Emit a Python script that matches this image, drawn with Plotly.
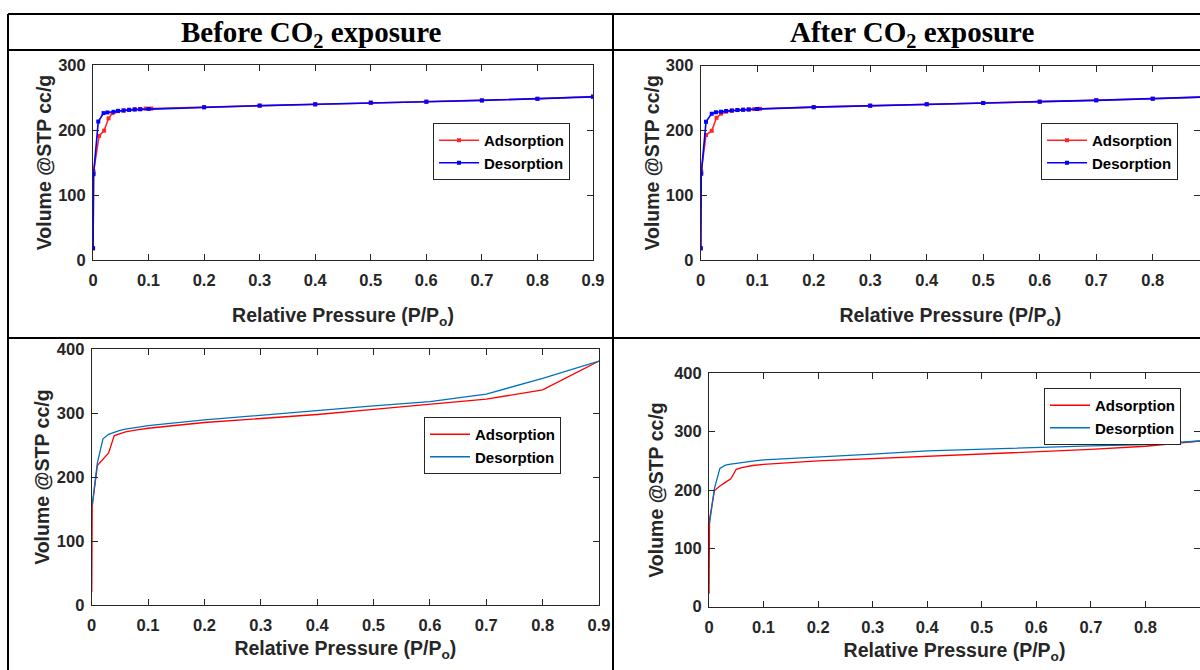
import plotly.graph_objects as go

W, H = 1200, 670

# ---------------- data ----------------
# Top-left: Before CO2 exposure (N2 isotherm, with markers)
bl_ads_x = [0.0001, 0.001, 0.011, 0.02, 0.028, 0.035, 0.045, 0.055, 0.065, 0.075, 0.085, 0.095, 0.105,
            0.2, 0.3, 0.4, 0.5, 0.6, 0.7, 0.8, 0.9]
bl_ads_y = [18, 136, 191, 199, 218, 226, 229, 230, 231, 232, 232, 233, 233,
            235, 237.5, 239.5, 242, 243.5, 245.5, 248, 251.5]
bl_des_x = [0.9, 0.8, 0.7, 0.6, 0.5, 0.4, 0.3, 0.2, 0.1, 0.085, 0.075, 0.065, 0.055, 0.045,
            0.037, 0.026, 0.019, 0.0095, 0.001, 0.0001]
bl_des_y = [251, 248, 245.5, 243.5, 242, 239.5, 237.5, 235, 232.5, 232, 231.5, 231, 230, 229.5,
            228, 227, 226, 213, 132, 18]

# Top-right: After CO2 exposure (with markers)
al_ads_x = [0.0001, 0.001, 0.0094, 0.0195, 0.028, 0.036, 0.045, 0.055, 0.065, 0.075, 0.085, 0.095, 0.105,
            0.2, 0.3, 0.4, 0.5, 0.6, 0.7, 0.8, 0.9]
al_ads_y = [18, 137, 193, 199.5, 219.5, 226, 229, 230.5, 231.5, 232, 232.5, 233, 233.5,
            236, 238.5, 240.5, 242.5, 244.5, 246.5, 249, 252]
al_des_x = [0.9, 0.8, 0.7, 0.6, 0.5, 0.4, 0.3, 0.2, 0.1, 0.085, 0.075, 0.065, 0.055, 0.045,
            0.036, 0.027, 0.0195, 0.0094, 0.001, 0.0001]
al_des_y = [252, 249, 246.5, 244.5, 242.5, 240.5, 238, 236, 233, 232.5, 232, 231.5, 231, 230,
            229, 228, 226, 213.5, 133, 18]

# Bottom-left: Before CO2 exposure (lines only)
bb_ads_x = [0.0001, 0.001, 0.01, 0.02, 0.03, 0.04, 0.05, 0.06, 0.08, 0.1,
            0.2, 0.3, 0.4, 0.5, 0.6, 0.7, 0.8, 0.9]
bb_ads_y = [20, 155, 218, 228, 238, 265, 268.5, 271, 274, 276.5,
            285.5, 292, 298, 306, 313.5, 322, 336.5, 381.5]
bb_des_x = [0.9, 0.8, 0.7, 0.6, 0.5, 0.4, 0.3, 0.2, 0.1, 0.08, 0.06, 0.05, 0.04, 0.03,
            0.02, 0.01, 0.001]
bb_des_y = [381.5, 354.5, 330, 318, 311.5, 304, 296.5, 289.5, 280.5, 278, 275, 273, 270.5, 267,
            260, 222, 157]

# Bottom-right: After CO2 exposure (lines only)
ab_ads_x = [0.0001, 0.001, 0.01, 0.02, 0.03, 0.04, 0.05, 0.06, 0.08, 0.1,
            0.2, 0.3, 0.4, 0.5, 0.6, 0.7, 0.8, 0.9]
ab_ads_y = [22, 150, 199, 207, 213, 219, 235.5, 238.5, 242, 244,
            250, 254, 257.5, 261, 265.5, 269.5, 275, 284]
ab_des_x = [0.9, 0.8, 0.7, 0.6, 0.5, 0.4, 0.3, 0.2, 0.1, 0.08, 0.06, 0.04, 0.03,
            0.02, 0.01, 0.001]
ab_des_y = [284, 278, 275.5, 272.5, 270, 267, 261.5, 257, 251.5, 249.5, 247.5, 244.5, 242.5,
            237, 203, 143]

x_tickvals = [0, 0.1, 0.2, 0.3, 0.4, 0.5, 0.6, 0.7, 0.8, 0.9]
x_ticktext = ["0", "0.1", "0.2", "0.3", "0.4", "0.5", "0.6", "0.7", "0.8", "0.9"]
y_top_ticks = [0, 100, 200, 300]
y_bot_ticks = [0, 100, 200, 300, 400]

headers = ["Before CO<sub>2</sub> exposure", "After CO<sub>2</sub> exposure"]
series_names = ["Adsorption", "Desorption"]
x_title = "Relative Pressure (P/P<sub>o</sub>)"
y_title = "Volume @STP cc/g"

# ---------------- styling helpers ----------------
RED = "#FF0000"
BLUE_M = "#0000FF"
BLUE_L = "#0072BD"
AX = "#262626"

def px(x):
    return x / W

def py(y):
    return 1 - y / H

fig = go.Figure()

def add_pair(xa, ya, xd, yd, axn, leg, markers, blue):
    xs = "x" if axn == 1 else f"x{axn}"
    ys = "y" if axn == 1 else f"y{axn}"
    mode = "lines+markers" if markers else "lines"
    lw = 1.6 if markers else 1.3
    fig.add_trace(go.Scatter(x=xa, y=ya, mode=mode, name=series_names[0],
                             line=dict(color=RED, width=lw),
                             marker=dict(color=RED, size=4, symbol="square"),
                             opacity=0.85 if markers else 1,
                             xaxis=xs, yaxis=ys, legend=leg))
    fig.add_trace(go.Scatter(x=xd, y=yd, mode=mode, name=series_names[1],
                             line=dict(color=blue, width=lw),
                             marker=dict(color=blue, size=4, symbol="square"),
                             xaxis=xs, yaxis=ys, legend=leg))

add_pair(bl_ads_x, bl_ads_y, bl_des_x, bl_des_y, 1, "legend", True, BLUE_M)
add_pair(al_ads_x, al_ads_y, al_des_x, al_des_y, 2, "legend2", True, BLUE_M)
add_pair(bb_ads_x, bb_ads_y, bb_des_x, bb_des_y, 3, "legend3", False, BLUE_L)
add_pair(ab_ads_x, ab_ads_y, ab_des_x, ab_des_y, 4, "legend4", False, BLUE_L)

tickfont = dict(family="Liberation Sans, Arial, sans-serif", size=16.5, color=AX, weight="bold")
titlefont = dict(family="Liberation Sans, Arial, sans-serif", size=19.5, color=AX, weight="bold")

def xaxis(domain, rng, anchor, standoff):
    return dict(domain=domain, range=rng, anchor=anchor, tickvals=x_tickvals, ticktext=x_ticktext,
                showline=True, linecolor=AX, linewidth=1, mirror="ticks", ticks="inside",
                ticklen=6, tickcolor=AX, showgrid=False, zeroline=False, tickfont=tickfont,
                ticklabelstandoff=5,
                title=dict(text=x_title, font=titlefont, standoff=standoff), automargin=False)

def yaxis(domain, rng, anchor, ticks, standoff):
    return dict(domain=domain, range=rng, anchor=anchor, tickvals=ticks,
                showline=True, linecolor=AX, linewidth=1, mirror="ticks", ticks="inside",
                ticklen=6, tickcolor=AX, showgrid=False, zeroline=False, tickfont=tickfont,
                ticklabelstandoff=3,
                title=dict(text=y_title, font=titlefont, standoff=standoff), automargin=False)

# panel rectangles (pixels)
p_tl = (93, 593, 65, 260)
p_tr = (700.7, 1200, 65.7, 260)
p_bl = (91.7, 599, 349.3, 605)
p_br = (709, 1200, 373.3, 606.7)

def dom(p):
    return [px(p[0]), px(p[1])], [py(p[3]), py(p[2])]

dx1, dy1 = dom(p_tl)
dx2, dy2 = dom(p_tr)
dx3, dy3 = dom(p_bl)
dx4, dy4 = dom(p_br)

tr_xmax = (1200 - 700.7) / 565.0

legend_common = dict(bgcolor="white", bordercolor=AX, borderwidth=1,
                     font=dict(family="Liberation Sans, Arial, sans-serif", size=15, color="black", weight="bold"),
                     xanchor="left", yanchor="top", itemwidth=40, tracegroupgap=0)

fig.update_layout(
    width=W, height=H, margin=dict(l=0, r=0, t=0, b=0),
    paper_bgcolor="white", plot_bgcolor="white",
    showlegend=True,
    xaxis=xaxis(dx1, [0, 0.9], "y", 20),
    yaxis=yaxis(dy1, [0, 300], "x", y_top_ticks, 1),
    xaxis2=xaxis(dx2, [0, tr_xmax], "y2", 20),
    yaxis2=yaxis(dy2, [0, 300], "x2", y_top_ticks, 1),
    xaxis3=xaxis(dx3, [0, 0.9], "y3", 8),
    yaxis3=yaxis(dy3, [0, 400], "x3", y_bot_ticks, 2),
    xaxis4=xaxis(dx4, [0, 0.9], "y4", 8),
    yaxis4=yaxis(dy4, [0, 400], "x4", y_bot_ticks, 5),
    legend=dict(x=px(433), y=py(123), **legend_common),
    legend2=dict(x=px(1041), y=py(123), **legend_common),
    legend3=dict(x=px(424), y=py(417), **legend_common),
    legend4=dict(x=px(1044), y=py(388), **legend_common),
)

# header annotations
hfont = dict(family="Liberation Serif, Times New Roman, serif", size=29, color="black", weight="bold")
fig.add_annotation(text=headers[0], x=px(310.5), y=py(34), xref="paper", yref="paper",
                   showarrow=False, font=hfont, xanchor="center", yanchor="middle")
fig.add_annotation(text=headers[1], x=px(912), y=py(34), xref="paper", yref="paper",
                   showarrow=False, font=hfont, xanchor="center", yanchor="middle")

# table borders
line = dict(color="black", width=2)
for yy in (14, 50, 338):
    fig.add_shape(type="line", xref="paper", yref="paper", x0=px(8), x1=1, y0=py(yy), y1=py(yy), line=line)
for xx in (8, 613):
    fig.add_shape(type="line", xref="paper", yref="paper", x0=px(xx), x1=px(xx), y0=py(14), y1=0, line=line)

fig.write_html("out.html")
